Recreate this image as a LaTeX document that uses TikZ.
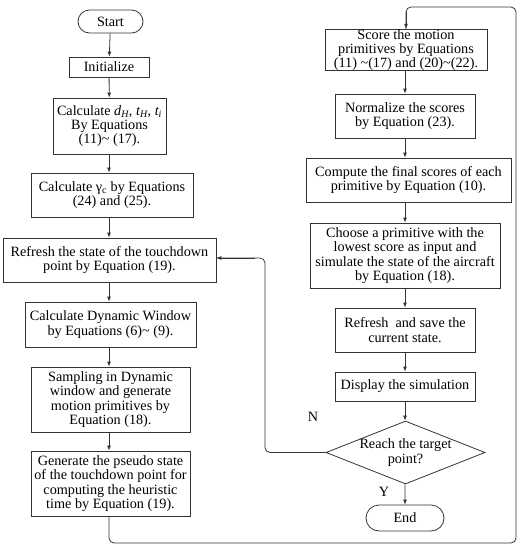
\documentclass[tikz,border=0pt]{standalone}
\usepackage{fontspec}
\setmainfont{Liberation Serif}
\usetikzlibrary{shapes.geometric,shapes.misc,arrows.meta}
\begin{document}
\begin{tikzpicture}[x=1pt,y=-1pt,
  every node/.style={font=\fontsize{14.2}{14.3}\selectfont, inner sep=0pt, align=center},
  box/.style={draw=black!80, line width=0.8pt, rectangle},
  term/.style={draw=black!80, line width=0.8pt, rounded rectangle},
  dec/.style={draw=black!80, line width=0.8pt, diamond},
  arr/.style={draw=black!80, line width=0.8pt, -{Latex[length=5pt,width=4pt]}},
  ln/.style={draw=black!80, line width=0.8pt, rounded corners=5pt}]
\useasboundingbox (0,0) rectangle (522,550);
% left column
\node[term, minimum width=65pt, minimum height=23pt] (start) at (110.5,21.5) {Start};
\node[box, minimum width=80pt, minimum height=20pt] (init) at (109,67) {Initialize};
\node[box, minimum width=113pt, minimum height=56pt] (calc) at (109.5,126) {Calculate {\itshape d}\textsubscript{\itshape H}, {\itshape t}\textsubscript{\itshape H}, {\itshape t}\textsubscript{\itshape i}\\By Equations\\(11)\textasciitilde{} (17).};
\node[box, minimum width=162pt, minimum height=44pt] (gam) at (112,195) {Calculate γ\textsubscript{c} by Equations\\(24) and (25).};
\node[box, minimum width=213pt, minimum height=44pt] (refr) at (109.5,260) {Refresh the state of the touchdown\\point by Equation (19).};
\node[box, minimum width=171pt, minimum height=45pt] (dw) at (110.5,324.5) {Calculate Dynamic Window\\by Equations (6)\textasciitilde{} (9).};
\node[box, minimum width=159pt, minimum height=65pt] (samp) at (110.5,399.5) {Sampling in Dynamic\\window and generate\\motion primitives by\\Equation (18).};
\node[box, minimum width=159pt, minimum height=65pt] (gen) at (110.5,483.5) {Generate the pseudo state\\of the touchdown point for\\computing the heuristic\\time by Equation (19).};
% right column
\node[box, minimum width=162pt, minimum height=38pt] (score) at (406,50) {Score the motion\\primitives by Equations\\(11) \textasciitilde(17) and (20)\textasciitilde(22).};
\node[box, minimum width=140pt, minimum height=44pt] (norm) at (405,116) {Normalize the scores\\by Equation (23).};
\node[box, minimum width=205pt, minimum height=44pt] (comp) at (408.5,180) {Compute the final scores of each\\primitive by Equation (10).};
\node[box, minimum width=190pt, minimum height=65pt] (choose) at (405,255.5) {Choose a primitive with the\\lowest score as input and\\simulate the state of the aircraft\\by Equation (18).};
\node[box, minimum width=140pt, minimum height=44pt] (save) at (405,330) {Refresh\ \ and save the\\current state.};
\node[box, minimum width=140pt, minimum height=29pt] (disp) at (405,386.5) {Display the simulation};
\node[dec, minimum width=159pt, minimum height=63pt, aspect=2.5] (reach) at (405.5,452.5) {};
\node at (405.5,452.5) {Reach the target\\point?};
\node[term, minimum width=78pt, minimum height=26pt] (end) at (405,518) {End};
\node (nlab) at (313,417) {N};
\node (ylab) at (384,492) {Y};
% coordinates
\coordinate (b1) at (110.5,543);
\coordinate (b2) at (516,543);
\coordinate (t1) at (516,7);
\coordinate (t2) at (406,7);
\coordinate (l1) at (265,452.5);
\coordinate (l2) at (265,258);
% connectors
\draw[arr] (start) -- (init);
\draw[arr] (init) -- (calc);
\draw[arr] (calc.south -| init.south) -- (init.south |- gam.north);
\draw[arr] (init.south |- gam.south) -- (init.south |- refr.north);
\draw[arr] (init.south |- refr.south) -- (init.south |- dw.north);
\draw[arr] (init.south |- dw.south) -- (init.south |- samp.north);
\draw[arr] (init.south |- samp.south) -- (init.south |- gen.north);
\draw[ln] (init.south |- gen.south) -- (init.south |- b1) -- (b2) -- (t1) -- (t2) -- (score.north);
\draw[arr] (t2) ++(0,5) -- (score.north);
\draw[arr] (score.south -| norm.south) -- (norm.north);
\draw[arr] (norm.south) -- (norm.south |- comp.north);
\draw[arr] (norm.south |- comp.south) -- (norm.south |- choose.north);
\draw[arr] (norm.south |- choose.south) -- (save.north);
\draw[arr] (save) -- (disp);
\draw[arr] (disp) -- (disp.south |- reach.north);
\draw[arr] (disp.south |- reach.south) -- (end);
\draw[ln] (reach.west) -- (l1) -- (l2) -- (refr.east |- l2);
\draw[arr] (l2) ++(-10,0) -- (refr.east |- l2);
\end{tikzpicture}
\end{document}
